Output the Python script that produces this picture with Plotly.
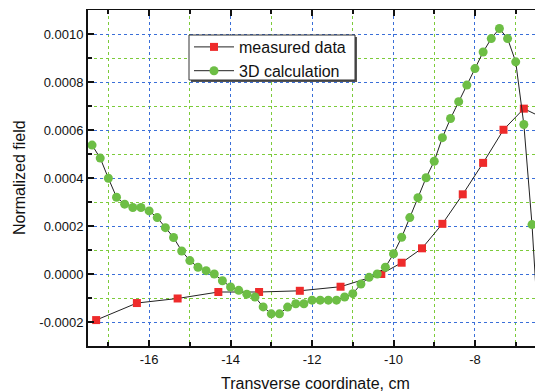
import plotly.graph_objects as go

# ---------------- data ----------------
measured_x = [-17.3, -16.3, -15.3, -14.3, -13.3, -12.3, -11.3, -10.3, -9.8, -9.3,
              -8.8, -8.3, -7.8, -7.3, -6.8, -6.3]
measured_y = [-0.000192, -0.000121, -0.000102, -0.000075, -0.000075, -0.000070,
              -0.000053, 0.000000, 0.000047, 0.000107, 0.000209, 0.000332,
              0.000463, 0.000601, 0.000689, 0.000648]

calc_x = [-17.4, -17.2, -17.0, -16.8, -16.6, -16.4, -16.2, -16.0, -15.8, -15.6,
          -15.4, -15.2, -15.0, -14.8, -14.6, -14.4, -14.2, -14.0, -13.8, -13.6,
          -13.4, -13.2, -13.0, -12.8, -12.6, -12.4, -12.2, -12.0, -11.8, -11.6,
          -11.4, -11.2, -11.0, -10.8, -10.6, -10.4, -10.2, -10.0, -9.8, -9.6,
          -9.4, -9.2, -9.0, -8.8, -8.6, -8.4, -8.2, -8.0, -7.8, -7.6,
          -7.4, -7.2, -7.0, -6.8, -6.6, -6.4]
calc_y = [0.000537, 0.000483, 0.000399, 0.000320, 0.000291, 0.000277, 0.000277,
          0.000263, 0.000235, 0.000193, 0.000152, 0.000096, 0.000056, 0.000028,
          0.000014, 0.000000, -0.000028, -0.000054, -0.000068, -0.000084,
          -0.000096, -0.000137, -0.000166, -0.000166, -0.000138, -0.000124,
          -0.000124, -0.000109, -0.000109, -0.000109, -0.000109, -0.000096,
          -0.000082, -0.000042, -0.000014, 0.000000, 0.000028, 0.000084,
          0.000153, 0.000235, 0.000318, 0.000401, 0.000470, 0.000568, 0.000648,
          0.000718, 0.000787, 0.000856, 0.000925, 0.000981, 0.001023, 0.000981,
          0.000884, 0.000623, 0.000206, -0.000350]

x_tick_vals = [-16, -14, -12, -10, -8]
x_tick_text = ["-16", "-14", "-12", "-10", "-8"]
x_minor_vals = [-17, -15, -13, -11, -9, -7]
y_tick_vals = [-0.0002, 0.0, 0.0002, 0.0004, 0.0006, 0.0008, 0.0010]
y_tick_text = ["-0.0002", "0.0000", "0.0002", "0.0004", "0.0006", "0.0008", "0.0010"]
y_minor_vals = [-0.0001, 0.0001, 0.0003, 0.0005, 0.0007, 0.0009]

x_title = "Transverse coordinate, cm"
y_title = "Normalized field"

x_range = [-17.5, -6.33]
y_range = [-0.0003, 0.0011]

FONT = "Liberation Sans, Arial, sans-serif"
RED = "#EE2B2B"
GREEN = "#6DBE45"

# The page body has an 8px default margin, so the figure is sized/placed to
# account for it (figure 535x384 drawn at offset 8,8 in a 543x392 window).
W, H = 535, 384
ML, MT, MB, MR = 80, 2, 46, 0
PW, PH = W - ML - MR, H - MT - MB  # 455 x 336


def px_to_paper(px, py):
    """screen pixel (in the 543x392 window) -> paper coords"""
    fx, fy = px - 8, py - 8
    return (fx - ML) / PW, (H - MB - fy) / PH


fig = go.Figure()
fig.add_trace(go.Scatter(
    x=measured_x, y=measured_y, name="measured data", mode="lines+markers",
    line=dict(color="#222222", width=1),
    marker=dict(symbol="square", size=8, color=RED, line=dict(width=0)),
))
fig.add_trace(go.Scatter(
    x=calc_x, y=calc_y, name="3D calculation", mode="lines+markers",
    line=dict(color="#222222", width=1),
    marker=dict(symbol="circle", size=9, color=GREEN, line=dict(width=0)),
))
# invisible trace to anchor the mirror (top/right) axes
fig.add_trace(go.Scatter(x=[x_range[0]], y=[y_range[0]], xaxis="x2", yaxis="y2",
                         mode="markers", marker=dict(opacity=0), showlegend=False,
                         hoverinfo="skip"))

common_minor_x = dict(tickmode="array", tickvals=x_minor_vals, ticklen=4,
                      tickcolor="#111111", ticks="inside")
common_minor_y = dict(tickmode="array", tickvals=y_minor_vals, ticklen=4,
                      tickcolor="#111111", ticks="inside")

lx0, ly0 = px_to_paper(189, 35)
lx1, ly1 = px_to_paper(355, 80)
legx, legy = px_to_paper(189, 30)
xt_x, xt_y = px_to_paper(315, 383)
yt_x, yt_y = px_to_paper(19, 178)

fig.update_layout(
    width=W, height=H,
    margin=dict(l=ML, r=MR, t=MT, b=MB, autoexpand=False),
    paper_bgcolor="white", plot_bgcolor="white",
    font=dict(family=FONT, size=13, color="#111111"),
    showlegend=True,
    legend=dict(x=legx, y=legy, xanchor="left", yanchor="top",
                bgcolor="rgba(0,0,0,0)", borderwidth=0,
                font=dict(family=FONT, size=16, color="#111111"),
                tracegroupgap=0, itemwidth=40),
    xaxis=dict(
        range=x_range, tickmode="array", tickvals=x_tick_vals, ticktext=x_tick_text,
        ticks="inside", ticklen=6, tickwidth=1.5, tickcolor="#111111",
        showline=True, linecolor="#111111", linewidth=2, mirror=False,
        showgrid=True, gridcolor="#3A6FD8", gridwidth=1, griddash="dot",
        zeroline=False, automargin=False,
        minor=dict(showgrid=True, gridcolor="#7CCB3A", gridwidth=1, griddash="dot",
                   **common_minor_x),
        tickfont=dict(size=13),
    ),
    yaxis=dict(
        range=y_range, tickmode="array", tickvals=y_tick_vals, ticktext=y_tick_text,
        ticks="inside", ticklen=6, tickwidth=1.5, tickcolor="#111111",
        showline=True, linecolor="#111111", linewidth=2, mirror=False,
        showgrid=True, gridcolor="#3A6FD8", gridwidth=1, griddash="dot",
        zeroline=False, automargin=False,
        minor=dict(showgrid=True, gridcolor="#7CCB3A", gridwidth=1, griddash="dot",
                   **common_minor_y),
        tickfont=dict(size=13),
    ),
    xaxis2=dict(
        overlaying="x", side="top", range=x_range, tickmode="array",
        tickvals=x_tick_vals, showticklabels=False, automargin=False,
        ticks="inside", ticklen=6, tickwidth=1.5, tickcolor="#111111",
        showline=True, linecolor="#111111", linewidth=1.2,
        showgrid=False, zeroline=False,
        minor=dict(showgrid=False, **common_minor_x),
    ),
    yaxis2=dict(
        overlaying="y", side="right", range=y_range, tickmode="array",
        tickvals=y_tick_vals, showticklabels=False, automargin=False,
        ticks="inside", ticklen=6, tickwidth=1.5, tickcolor="#111111",
        showline=True, linecolor="#111111", linewidth=1.2,
        showgrid=False, zeroline=False,
        minor=dict(showgrid=False, **common_minor_y),
    ),
    shapes=[
        # legend frame shadow
        dict(type="rect", xref="paper", yref="paper", layer="above",
             x0=lx0 + 2 / PW, x1=lx1 + 2 / PW, y0=ly0 - 2 / PH, y1=ly1 - 2 / PH,
             fillcolor="#555555", line=dict(width=0)),
        # legend frame
        dict(type="rect", xref="paper", yref="paper", layer="above",
             x0=lx0, x1=lx1, y0=ly0, y1=ly1,
             fillcolor="white", line=dict(color="#333333", width=1)),
    ],
    annotations=[
        dict(text=x_title, xref="paper", yref="paper", x=xt_x, y=xt_y,
             xanchor="center", yanchor="middle", showarrow=False,
             font=dict(family=FONT, size=16, color="#111111")),
        dict(text=y_title, xref="paper", yref="paper", x=yt_x, y=yt_y,
             xanchor="center", yanchor="middle", textangle=-90, showarrow=False,
             font=dict(family=FONT, size=16, color="#111111")),
    ],
)

fig.write_html("out.html")
